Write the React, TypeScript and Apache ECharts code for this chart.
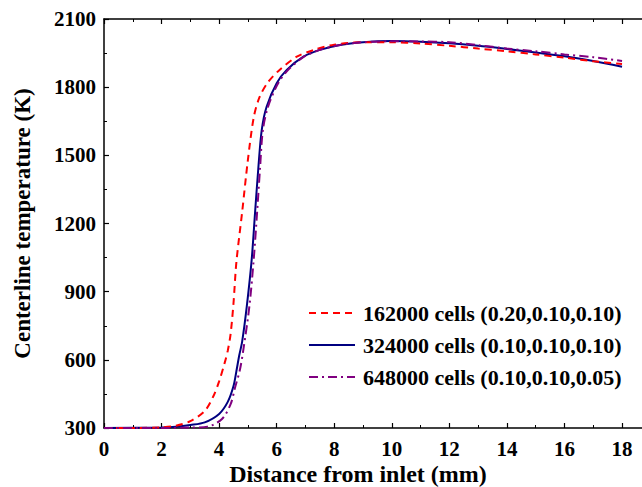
import React, { useEffect, useRef } from "react";
import * as echarts from "echarts";

const seriesNames = [
  "162000 cells (0.20,0.10,0.10)",
  "324000 cells (0.10,0.10,0.10)",
  "648000 cells (0.10,0.10,0.05)",
];

const redX = [0, 1, 2, 2.5, 3, 3.5, 3.8, 4.0, 4.2, 4.3, 4.4, 4.5, 4.6, 4.8, 5.0, 5.2, 5.4, 5.7, 6.1, 6.7, 7.3, 8, 9, 10, 11, 12, 13, 14, 15, 16, 17, 18];
const redY = [300, 300, 303, 310, 330, 375, 440, 505, 590, 640, 715, 850, 1030, 1250, 1480, 1665, 1755, 1822, 1876, 1934, 1964, 1987, 1998, 1998, 1992, 1982, 1970, 1958, 1944, 1930, 1914, 1902];

const blueX = [0, 2, 2.5, 3, 3.5, 4.0, 4.3, 4.5, 4.6, 4.7, 4.8, 4.96, 5.13, 5.25, 5.36, 5.48, 5.65, 6.0, 6.35, 6.93, 7.5, 8.2, 9, 10, 11, 12, 13, 14, 15, 16, 17, 18];
const blueY = [300, 302, 305, 313, 325, 362, 415, 485, 550, 620, 680, 834, 1039, 1250, 1440, 1611, 1714, 1817, 1876, 1934, 1964, 1986, 1998, 2003, 2000, 1993, 1982, 1968, 1953, 1936, 1915, 1890];

const purpleX = [0, 2, 3, 3.6, 4.1, 4.4, 4.55, 4.72, 4.84, 5.05, 5.2, 5.32, 5.42, 5.52, 5.7, 6.05, 6.4, 6.95, 7.5, 8.2, 9, 10, 11, 12, 13, 14, 15, 16, 17, 18];
const purpleY = [300, 300, 302, 306, 340, 405, 476, 555, 643, 834, 1039, 1250, 1440, 1611, 1714, 1817, 1876, 1934, 1964, 1986, 1998, 2002, 2001, 1998, 1985, 1970, 1958, 1944, 1932, 1915];

const xTicks = { min: 0, max: 20, interval: 2 };
const yTicks = { min: 300, max: 2100, interval: 300 };

const zip = (xs: number[], ys: number[]) => xs.map((x, i) => [x, ys[i]]);

const FONT = "'Liberation Serif', 'Times New Roman', serif";

export default function App() {
  const ref = useRef<HTMLDivElement>(null);
  useEffect(() => {
    if (!ref.current) return;
    const chart = echarts.init(ref.current, null, { renderer: "svg" });
    const axisCommon = {
      axisLine: { show: true, lineStyle: { color: "#000", width: 1.5 } },
      axisTick: { show: true, inside: true, length: 5, lineStyle: { color: "#000", width: 1.2 } },
      minorTick: { show: true, splitNumber: 2, length: 3, lineStyle: { color: "#000", width: 1 } },
      splitLine: { show: false },
    };
    chart.setOption({
      animation: false,
      backgroundColor: "#fff",
      grid: { left: 104, top: 19, width: 575.6, height: 409, containLabel: false, outerBoundsMode: "none" },
      legend: {
        orient: "vertical",
        left: 308,
        top: 302,
        padding: 0,
        itemWidth: 46,
        itemHeight: 14,
        itemGap: 10,
        itemStyle: { opacity: 0 },
        textStyle: { fontFamily: FONT, fontWeight: "bold", fontSize: 22, color: "#000", padding: [0, 0, 0, 3] },
        data: seriesNames,
      },
      xAxis: [
        {
          type: "value",
          position: "bottom",
          ...xTicks,
          ...axisCommon,
          axisLabel: {
            fontFamily: FONT,
            fontWeight: "bold",
            fontSize: 21,
            color: "#000",
            margin: 10,
            formatter: (v: number) => (v > 18 ? "" : String(v)),
          },
        },
        {
          type: "value",
          position: "top",
          ...xTicks,
          ...axisCommon,
          axisLabel: { show: false },
        },
      ],
      yAxis: [
        {
          type: "value",
          ...yTicks,
          ...axisCommon,
          name: "Centerline temperature (K)",
          nameLocation: "middle",
          nameGap: 70,
          nameTextStyle: { fontFamily: FONT, fontWeight: "bold", fontSize: 23, color: "#000" },
          axisLabel: {
            fontFamily: FONT,
            fontWeight: "bold",
            fontSize: 21,
            color: "#000",
            margin: 8,
            formatter: (v: number) => String(v),
          },
        },
      ],
      graphic: [
        {
          type: "text",
          x: 358,
          y: 474,
          style: {
            text: "Distance from inlet (mm)",
            font: `bold 24px ${FONT}`,
            fill: "#000",
            align: "center",
            verticalAlign: "middle",
          },
        },
      ],
      series: [
        {
          name: seriesNames[0],
          type: "line",
          data: zip(redX, redY),
          smooth: 0.3,
          symbol: "none",
          lineStyle: { color: "#ff0000", width: 2, type: [7, 5] },
          itemStyle: { color: "#ff0000" },
          z: 3,
        },
        {
          name: seriesNames[1],
          type: "line",
          data: zip(blueX, blueY),
          smooth: 0.3,
          symbol: "none",
          lineStyle: { color: "#000080", width: 2 },
          itemStyle: { color: "#000080" },
          z: 2,
        },
        {
          name: seriesNames[2],
          type: "line",
          data: zip(purpleX, purpleY),
          smooth: 0.3,
          symbol: "none",
          lineStyle: { color: "#800080", width: 2, type: [9, 4, 2, 4] },
          itemStyle: { color: "#800080" },
          z: 4,
        },
      ],
    });
    return () => chart.dispose();
  }, []);
  return (
    <div
      ref={ref}
      style={{ position: "fixed", left: 0, top: 0, width: 642, height: 487, background: "#fff" }}
    />
  );
}
